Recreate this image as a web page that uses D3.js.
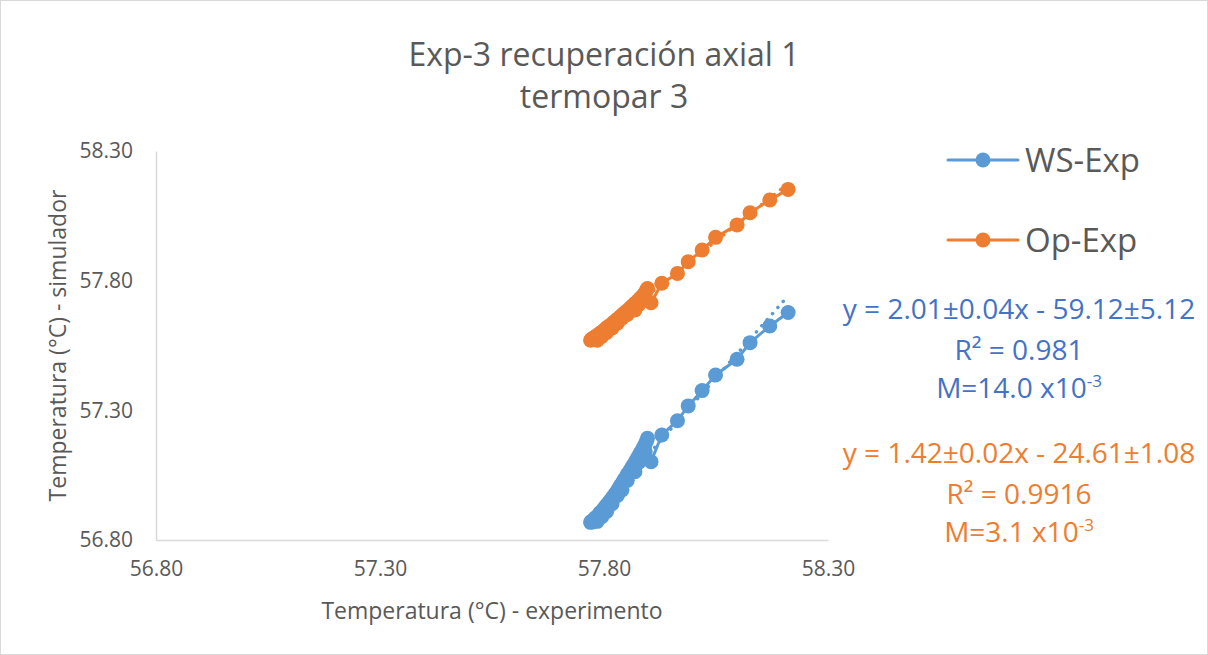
<!DOCTYPE html>
<html>
<head>
<meta charset="utf-8">
<script src="https://cdn.jsdelivr.net/npm/d3@7"></script>
<style>
  body { margin: 0; background: #fff; }
  svg { display: block; }
  text { font-family: "Open Sans", sans-serif; }
</style>
</head>
<body>
<svg id="chart" width="1208" height="655"></svg>
<script>
// Experimental thermocouple temperature (x) shared by both series
const expTemp = [
  57.892, 57.878, 57.852, 57.830, 57.818, 57.806, 57.795, 57.785,
  57.770, 57.772, 57.775, 57.778, 57.780, 57.783, 57.786, 57.789, 57.791, 57.794,
  57.797, 57.800, 57.803, 57.806, 57.810, 57.813, 57.817, 57.820, 57.824, 57.828,
  57.832, 57.836, 57.840, 57.840, 57.844, 57.848, 57.852, 57.856, 57.860, 57.864,
  57.868, 57.869, 57.872, 57.876, 57.880, 57.884, 57.888, 57.892, 57.895, 57.897,
  57.905, 57.929, 57.964, 57.988, 58.019, 58.049, 58.097, 58.126, 58.170, 58.211
];
// Simulated temperature, WS model
const wsSim = [
  57.140, 57.100, 57.030, 56.972, 56.940, 56.910, 56.890, 56.872,
  56.868, 56.872, 56.870, 56.878, 56.885, 56.880, 56.892, 56.898, 56.905, 56.902,
  56.915, 56.920, 56.928, 56.935, 56.942, 56.950, 56.958, 56.966, 56.975, 56.985,
  56.996, 57.008, 57.018, 56.993, 57.030, 57.040, 57.052, 57.062, 57.074, 57.085,
  57.096, 57.063, 57.108, 57.120, 57.132, 57.144, 57.156, 57.170, 57.182, 57.192,
  57.102, 57.205, 57.260, 57.317, 57.376, 57.436, 57.497, 57.561, 57.625, 57.677
];
// Simulated temperature, Op model
const opSim = [
  57.730, 57.708, 57.670, 57.637, 57.618, 57.600, 57.585, 57.570,
  57.570, 57.574, 57.578, 57.580, 57.582, 57.586, 57.590, 57.592, 57.596, 57.600,
  57.603, 57.608, 57.612, 57.618, 57.622, 57.626, 57.632, 57.636, 57.642, 57.648,
  57.654, 57.660, 57.666, 57.655, 57.672, 57.678, 57.684, 57.690, 57.697, 57.703,
  57.710, 57.687, 57.716, 57.722, 57.730, 57.737, 57.745, 57.753, 57.762, 57.770,
  57.715, 57.790, 57.828, 57.873, 57.918, 57.967, 58.015, 58.062, 58.111, 58.152
];
const seriesNames = ["WS-Exp", "Op-Exp"];
const seriesColors = ["#5B9BD5", "#ED7D31"];
const noteColors = ["#4472C4", "#ED7D31"];
const axisTicks = [56.80, 57.30, 57.80, 58.30];
const titleLines = ["Exp-3 recuperación axial 1", "termopar 3"];
const xTitle = "Temperatura (°C) - experimento";
const yTitle = "Temperatura (°C) - simulador";
// Fit statistics typed next to the chart
const fitNotes = [
  ["y = 2.01±0.04x - 59.12±5.12", "R² = 0.981", ["M=14.0 x10", "-3"]],
  ["y = 1.42±0.02x - 24.61±1.08", "R² = 0.9916", ["M=3.1 x10", "-3"]]
];

const svg = d3.select("#chart");
const W = 1208, H = 655;
const plot = { left: 156, right: 828, top: 151, bottom: 540 };
const textGrey = "#595959";

svg.append("rect")
  .attr("x", 0.5).attr("y", 0.5).attr("width", W - 1).attr("height", H - 1)
  .attr("fill", "#fff").attr("stroke", "#D9D9D9");

const x = d3.scaleLinear().domain([56.8, 58.3]).range([plot.left, plot.right]);
const y = d3.scaleLinear().domain([56.8, 58.3]).range([plot.bottom, plot.top]);

// Axes: line only, no tick marks
const xAxis = svg.append("g").attr("transform", `translate(0,${plot.bottom})`)
  .call(d3.axisBottom(x).tickValues(axisTicks).tickFormat(d3.format(".2f")).tickSize(0).tickPadding(21));
const yAxis = svg.append("g").attr("transform", `translate(${plot.left},0)`)
  .call(d3.axisLeft(y).tickValues(axisTicks).tickFormat(d3.format(".2f")).tickSize(0).tickPadding(23));
[xAxis, yAxis].forEach(g => {
  g.select(".domain").attr("stroke", "#D9D9D9").attr("stroke-width", 1.5);
  g.selectAll("text").attr("fill", textGrey).attr("font-size", 21)
    .attr("font-family", "'Open Sans', sans-serif");
});

// Titles
svg.append("text").attr("text-anchor", "middle")
  .attr("fill", textGrey).attr("font-size", 32)
  .selectAll("tspan").data(titleLines).join("tspan")
  .attr("x", 604).attr("y", (d, i) => 66 + i * 42).text(d => d);

svg.append("text").attr("x", (plot.left + plot.right) / 2).attr("y", 619)
  .attr("text-anchor", "middle").attr("fill", textGrey).attr("font-size", 23).text(xTitle);
svg.append("text")
  .attr("transform", `translate(66,${(plot.top + plot.bottom) / 2}) rotate(-90)`)
  .attr("text-anchor", "middle").attr("fill", textGrey).attr("font-size", 23).text(yTitle);

// Least-squares trendlines (dotted), drawn beneath the series
const series = [wsSim, opSim];
const xExt = d3.extent(expTemp);
series.forEach((ys, k) => {
  const mx = d3.mean(expTemp), my = d3.mean(ys);
  let sxy = 0, sxx = 0;
  expTemp.forEach((xv, i) => { sxy += (xv - mx) * (ys[i] - my); sxx += (xv - mx) ** 2; });
  const b = sxy / sxx, a = my - b * mx;
  svg.append("line")
    .attr("x1", x(xExt[0])).attr("y1", y(a + b * xExt[0]))
    .attr("x2", x(xExt[1])).attr("y2", y(a + b * xExt[1]))
    .attr("stroke", seriesColors[k]).attr("stroke-width", 3.5)
    .attr("stroke-linecap", "round").attr("stroke-dasharray", "0.1 8");
});

// Series: connected markers
const line = d3.line().x(d => x(d[0])).y(d => y(d[1]));
series.forEach((ys, k) => {
  const pts = expTemp.map((xv, i) => [xv, ys[i]]);
  const g = svg.append("g");
  g.append("path").attr("d", line(pts)).attr("fill", "none")
    .attr("stroke", seriesColors[k]).attr("stroke-width", 3).attr("stroke-linejoin", "round");
  g.selectAll("circle").data(pts).join("circle")
    .attr("cx", d => x(d[0])).attr("cy", d => y(d[1])).attr("r", 7.5)
    .attr("fill", seriesColors[k]);
});

// Legend
const legend = svg.append("g");
seriesNames.forEach((name, k) => {
  const ly = 160 + k * 80;
  legend.append("line").attr("x1", 948).attr("x2", 1018).attr("y1", ly).attr("y2", ly)
    .attr("stroke", seriesColors[k]).attr("stroke-width", 3).attr("stroke-linecap", "round");
  legend.append("circle").attr("cx", 983).attr("cy", ly).attr("r", 7.5).attr("fill", seriesColors[k]);
  legend.append("text").attr("x", 1025).attr("y", ly + 12).attr("fill", textGrey)
    .attr("font-size", 33).text(name);
});

// Fit notes
fitNotes.forEach((lines, k) => {
  const base = 319 + k * 144;
  const t = svg.append("g").attr("fill", noteColors[k]).attr("font-size", 28).attr("text-anchor", "middle");
  t.append("text").attr("x", 1019).attr("y", base).text(lines[0]);
  t.append("text").attr("x", 1019).attr("y", base + 41).text(lines[1]);
  const m = t.append("text").attr("x", 1019).attr("y", base + 79);
  m.append("tspan").text(lines[2][0]);
  m.append("tspan").attr("font-size", 17).attr("dy", -11).text(lines[2][1]);
});
</script>
</body>
</html>
